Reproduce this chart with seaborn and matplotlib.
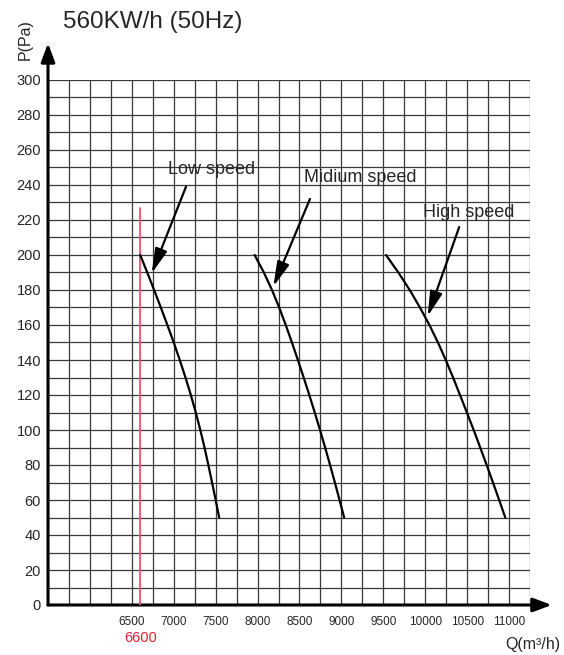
import numpy as np
import pandas as pd
import seaborn as sns
import matplotlib.pyplot as plt

#---------------------

# pressure points shared by all three curves (Pa)
pressure = [200, 190, 180, 170, 160, 150, 140, 130, 120, 110, 100, 90, 80, 70, 60, 50]

# air flow (m3/h)
low_flow = [6600, 6684, 6766, 6846, 6924, 7000, 7072, 7140, 7204, 7263, 7317, 7367, 7413, 7457, 7500, 7542]
mid_flow = [7965, 8075, 8172, 8258, 8336, 8410, 8481, 8550, 8617, 8682, 8745, 8806, 8865, 8922, 8978, 9033]
high_flow = [9532, 9680, 9815, 9937, 10050, 10152, 10245, 10332, 10415, 10497, 10578, 10656, 10733, 10808, 10882, 10955]

speed_names = ['Low speed', 'Midium speed', 'High speed']
x_ticks = [6500, 7000, 7500, 8000, 8500, 9000, 9500, 10000, 10500, 11000]
y_ticks = list(range(0, 301, 20))
marker_flow = 6600
marker_top = 227

#---------------------

df = pd.concat([
    pd.DataFrame({'Q': low_flow, 'P': pressure, 'speed': speed_names[0]}),
    pd.DataFrame({'Q': mid_flow, 'P': pressure, 'speed': speed_names[1]}),
    pd.DataFrame({'Q': high_flow, 'P': pressure, 'speed': speed_names[2]}),
])

sns.set_style('white')
plt.rcParams['font.family'] = ['Liberation Sans', 'DejaVu Sans']

fig = plt.figure(figsize=(5.64, 6.55), dpi=100)
ax = fig.add_axes([48 / 564, 50 / 655, 482 / 564, 525 / 655])

sns.lineplot(data=df, x='Q', y='P', hue='speed', palette=['black'] * 3,
             estimator=None, sort=False, legend=False, lw=1.6, ax=ax, zorder=4,
             solid_joinstyle='round', solid_capstyle='round')

ax.set_xlim(5500, 11250)
ax.set_ylim(0, 300)
ax.set_xticks(x_ticks)
ax.set_xticks(np.arange(5500, 11251, 250), minor=True)
ax.set_yticks(y_ticks)
ax.set_yticks(np.arange(0, 301, 10), minor=True)
ax.grid(which='both', color='#3a3a3a', lw=0.9)
ax.tick_params(which='both', length=0)
ax.tick_params(axis='x', labelsize=8.5, pad=8)
ax.tick_params(axis='y', labelsize=10.5, pad=5)
ax.set_xlabel('')
ax.set_ylabel('')

for s in ['top', 'right', 'left', 'bottom']:
    ax.spines[s].set_visible(False)

# axis lines with arrow heads
ax.annotate('', xy=(0, 1.07), xytext=(0, 0), xycoords='axes fraction',
            arrowprops=dict(arrowstyle='-|>,head_length=0.8,head_width=0.3', lw=2.2,
                            color='black', shrinkA=0, shrinkB=0, mutation_scale=14),
            annotation_clip=False)
ax.annotate('', xy=(1.045, 0), xytext=(0, 0), xycoords='axes fraction',
            arrowprops=dict(arrowstyle='-|>,head_length=0.8,head_width=0.3', lw=2.2,
                            color='black', shrinkA=0, shrinkB=0, mutation_scale=14),
            annotation_clip=False)

# 6600 marker
ax.plot([marker_flow, marker_flow], [0, marker_top], color='#f2506a', lw=1.3, zorder=3)
ax.text(marker_flow, -19, '6600', color='#e5202e', fontsize=10.5, ha='center', va='center', clip_on=False)

# curve labels
labels = [
    ('Low speed', (7457, 249), (7146, 239), (6737, 189.5)),
    ('Midium speed', (9222, 244), (8625, 232), (8188, 182)),
    ('High speed', (10522, 224), (10406, 216), (10029, 165)),
]
for name, txt, start, tip in labels:
    ax.text(txt[0], txt[1], name, fontsize=13, ha='center', va='center', zorder=5)
    ax.annotate('', xy=tip, xytext=start,
                arrowprops=dict(arrowstyle='-|>,head_length=1.0,head_width=0.25', lw=1.6,
                                color='black', shrinkA=0, shrinkB=0, mutation_scale=15), zorder=5)

fig.text(63 / 564, 1 - 22 / 655, '560KW/h (50Hz)', fontsize=17.5, ha='left', va='center')
fig.text(25 / 564, 1 - 40 / 655, 'P(Pa)', fontsize=11.5, rotation=90, ha='center', va='center')
fig.text(533 / 564, 1 - 645 / 655, 'Q(m³/h)', fontsize=11.5, ha='center', va='center')

fig.savefig('out.png', dpi=100, facecolor='white')
